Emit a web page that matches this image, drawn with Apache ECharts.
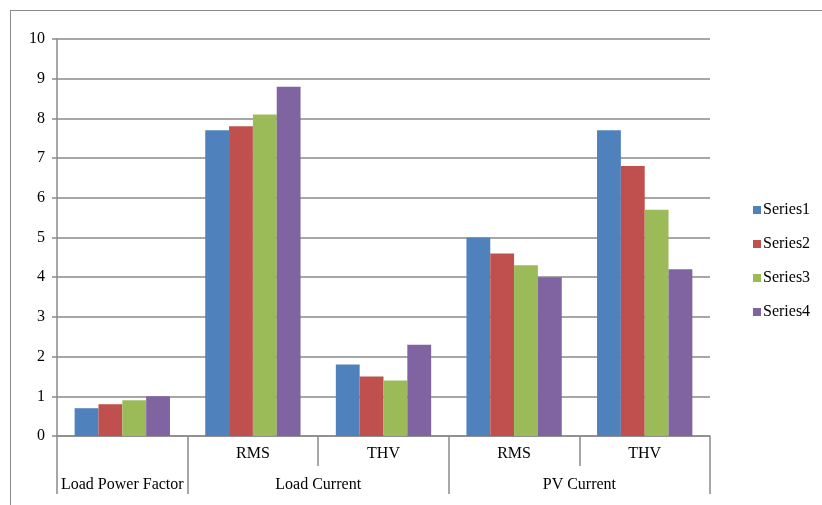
<!DOCTYPE html>
<html>
<head>
<meta charset="utf-8">
<script src="https://cdn.jsdelivr.net/npm/echarts@6/dist/echarts.min.js"></script>
<style>
  body { margin: 0; background: #fff; }
  #frame { position: absolute; left: 10px; top: 10px; width: 900px; height: 600px; border: 1.5px solid #8a8a8a; }
  #main { position: absolute; left: 0; top: 0; width: 822px; height: 505px; }
</style>
</head>
<body>
<div id="frame"></div>
<div id="main"></div>
<script>
// category levels
var groups = ['Load Power Factor', 'Load Current', 'PV Current'];
var groupSpans = [1, 2, 2];
var subLabels = ['', 'RMS', 'THV', 'RMS', 'THV'];

// series values
var seriesNames = ['Series1', 'Series2', 'Series3', 'Series4'];
var series1 = [0.7, 7.7, 1.8, 5.0, 7.7];
var series2 = [0.8, 7.8, 1.5, 4.6, 6.8];
var series3 = [0.9, 8.1, 1.4, 4.3, 5.7];
var series4 = [1.0, 8.8, 2.3, 4.0, 4.2];
var colors = ['#4f81bd', '#c0504d', '#9bbb59', '#8064a2'];

var gridColor = '#8a8a8a';
var font = 'Liberation Serif';

// build category keys and group boundaries
var categories = [];
var groupBounds = [0];
var groupCenters = [];
var pos = 0;
for (var g = 0; g < groups.length; g++) {
    groupCenters.push(pos + groupSpans[g] / 2);
    for (var k = 0; k < groupSpans[g]; k++) {
        categories.push(groups[g] + '|' + subLabels[pos + k]);
    }
    pos += groupSpans[g];
    groupBounds.push(pos);
}

var myChart = echarts.init(document.getElementById('main'));
var allData = [series1, series2, series3, series4];

var option = {
    animation: false,
    color: colors,
    textStyle: { fontFamily: font },
    grid: { left: 57, right: 112, top: 39, bottom: 69 },
    legend: {
        orient: 'vertical',
        left: 748,
        top: 197,
        itemWidth: 8,
        itemHeight: 8,
        itemGap: 18,
        icon: 'rect',
        data: seriesNames,
        textStyle: { fontFamily: font, fontSize: 16, color: '#000', lineHeight: 16, padding: [0, 0, 0, -3] }
    },
    xAxis: [{
        type: 'category',
        position: 'bottom',
        data: categories,
        axisLine: { lineStyle: { color: gridColor, width: 1.5 } },
        axisTick: { show: true, interval: 0, length: 30, lineStyle: { color: gridColor, width: 1.5 } },
        axisLabel: {
            interval: 0, margin: 10, color: '#000', fontFamily: font, fontSize: 16,
            formatter: function (v) { return v.split('|')[1]; }
        }
    }, {
        type: 'value',
        position: 'bottom',
        min: 0,
        max: categories.length,
        axisLine: { show: false },
        splitLine: { show: false },
        axisTick: { show: true, length: 58, customValues: groupBounds, lineStyle: { color: gridColor, width: 1.5 } },
        axisLabel: {
            margin: 41, color: '#000', fontFamily: font, fontSize: 16,
            customValues: groupCenters,
            formatter: function (v) { return groups[groupCenters.indexOf(v)]; }
        }
    }],
    yAxis: {
        type: 'value',
        min: 0,
        max: 10,
        interval: 1,
        axisLine: { show: true, lineStyle: { color: gridColor, width: 1.5 } },
        axisTick: { show: true, length: 5, lineStyle: { color: gridColor, width: 1.5 } },
        splitLine: { show: true, lineStyle: { color: gridColor, width: 1.5 } },
        axisLabel: { margin: 12, color: '#000', fontFamily: font, fontSize: 16 }
    },
    series: seriesNames.map(function (name, i) {
        return {
            name: name,
            type: 'bar',
            barGap: '0%',
            barCategoryGap: '27%',
            data: allData[i]
        };
    })
};
myChart.setOption(option);
</script>
</body>
</html>
